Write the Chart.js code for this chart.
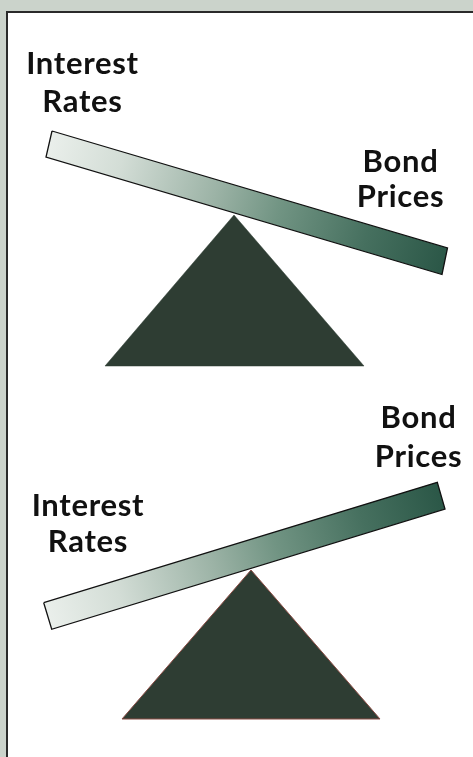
<!DOCTYPE html>
<html>
<head>
<meta charset="utf-8">
<script src="https://cdn.jsdelivr.net/npm/chart.js@4/dist/chart.umd.min.js"></script>
<style>
  html, body { margin: 0; padding: 0; width: 473px; height: 757px; overflow: hidden; background: #cbd3cb; }
  #panel { position: absolute; left: 6px; top: 11px; width: 480px; height: 760px; background: #ffffff;
           border-left: 2px solid #2a2a2a; border-top: 2px solid #2a2a2a; }
  #wrap { position: absolute; left: 0; top: 0; width: 473px; height: 757px; }
</style>
</head>
<body>
<div id="panel"></div>
<div id="wrap"><canvas id="c"></canvas></div>
<script>
// ---- data (in the drawing's value space) ----
const topPlankX = [52, 447.5, 442, 46, 52];
const topPlankY = [131, 248, 274.5, 157, 131];
const topFulcrumX = [105, 234, 364, 105];
const topFulcrumY = [366, 215, 366, 366];

const bottomPlankX = [43.7, 437.3, 445, 51.7, 43.7];
const bottomPlankY = [602.7, 482.3, 509, 629.3, 602.7];
const bottomFulcrumX = [122, 251, 380, 122];
const bottomFulcrumY = [719, 570, 719, 719];

const labelLines = [["Interest", "Rates"], ["Bond", "Prices"], ["Bond", "Prices"], ["Interest", "Rates"]];
const labelCenterX = [82.5, 400.5, 418.5, 88];
const labelBaselineY = [[74.3, 111.5], [171.5, 206.7], [428.3, 466.5], [516.2, 552]];

function pts(xs, ys) { return xs.map((x, i) => ({ x: x, y: ys[i] })); }

function plankGradient(xs, ys) {
  return function (ctx) {
    const chart = ctx.chart;
    const sx = chart.scales.x, sy = chart.scales.y;
    if (!sx || !sy || !chart.chartArea) return '#8aa597';
    const x0 = sx.getPixelForValue((xs[0] + xs[3]) / 2), y0 = sy.getPixelForValue((ys[0] + ys[3]) / 2);
    const x1 = sx.getPixelForValue((xs[1] + xs[2]) / 2), y1 = sy.getPixelForValue((ys[1] + ys[2]) / 2);
    if (![x0, y0, x1, y1].every(Number.isFinite)) return '#8aa597';
    const g = chart.ctx.createLinearGradient(x0, y0, x1, y1);
    g.addColorStop(0, '#eaefeb');
    g.addColorStop(0.18, '#d3ddd6');
    g.addColorStop(0.42, '#9cb3a6');
    g.addColorStop(0.58, '#719483');
    g.addColorStop(0.8, '#46705f');
    g.addColorStop(1, '#2b5747');
    return g;
  };
}

const labelPlugin = {
  id: 'labels',
  afterDatasetsDraw(chart) {
    const ctx = chart.ctx, sx = chart.scales.x, sy = chart.scales.y;
    ctx.save();
    ctx.fillStyle = '#111111';
    ctx.font = '700 31px Lato';
    if ('letterSpacing' in ctx) ctx.letterSpacing = '0.7px';
    ctx.textAlign = 'center';
    ctx.textBaseline = 'alphabetic';
    labelLines.forEach((lines, i) => {
      lines.forEach((t, j) => {
        ctx.fillText(t, sx.getPixelForValue(labelCenterX[i]), sy.getPixelForValue(labelBaselineY[i][j]));
      });
    });
    ctx.restore();
  }
};

new Chart(document.getElementById('c'), {
  type: 'scatter',
  data: {
    datasets: [
      { data: pts(topPlankX, topPlankY), showLine: true, fill: 'shape', tension: 0,
        backgroundColor: plankGradient(topPlankX, topPlankY), borderColor: '#111111', borderWidth: 1.3,
        borderJoinStyle: 'miter', pointRadius: 0, order: 1 },
      { data: pts(bottomPlankX, bottomPlankY), showLine: true, fill: 'shape', tension: 0,
        backgroundColor: plankGradient(bottomPlankX, bottomPlankY), borderColor: '#111111', borderWidth: 1.3,
        borderJoinStyle: 'miter', pointRadius: 0, order: 1 },
      { data: pts(topFulcrumX, topFulcrumY), showLine: true, fill: 'shape', tension: 0,
        backgroundColor: '#2e3d33', borderColor: '#2e3d33', borderWidth: 0.5, pointRadius: 0, order: 2 },
      { data: pts(bottomFulcrumX, bottomFulcrumY), showLine: true, fill: 'shape', tension: 0,
        backgroundColor: '#2e3d33', borderColor: '#8a4c44', borderWidth: 1, pointRadius: 0, order: 2 }
    ]
  },
  options: {
    responsive: true,
    maintainAspectRatio: false,
    animation: false,
    layout: { padding: 0 },
    plugins: { legend: { display: false }, tooltip: { enabled: false } },
    scales: {
      x: { type: 'linear', min: 0, max: 473, display: false },
      y: { type: 'linear', min: 0, max: 757, reverse: true, display: false }
    }
  },
  plugins: [labelPlugin]
});
</script>
</body>
</html>
